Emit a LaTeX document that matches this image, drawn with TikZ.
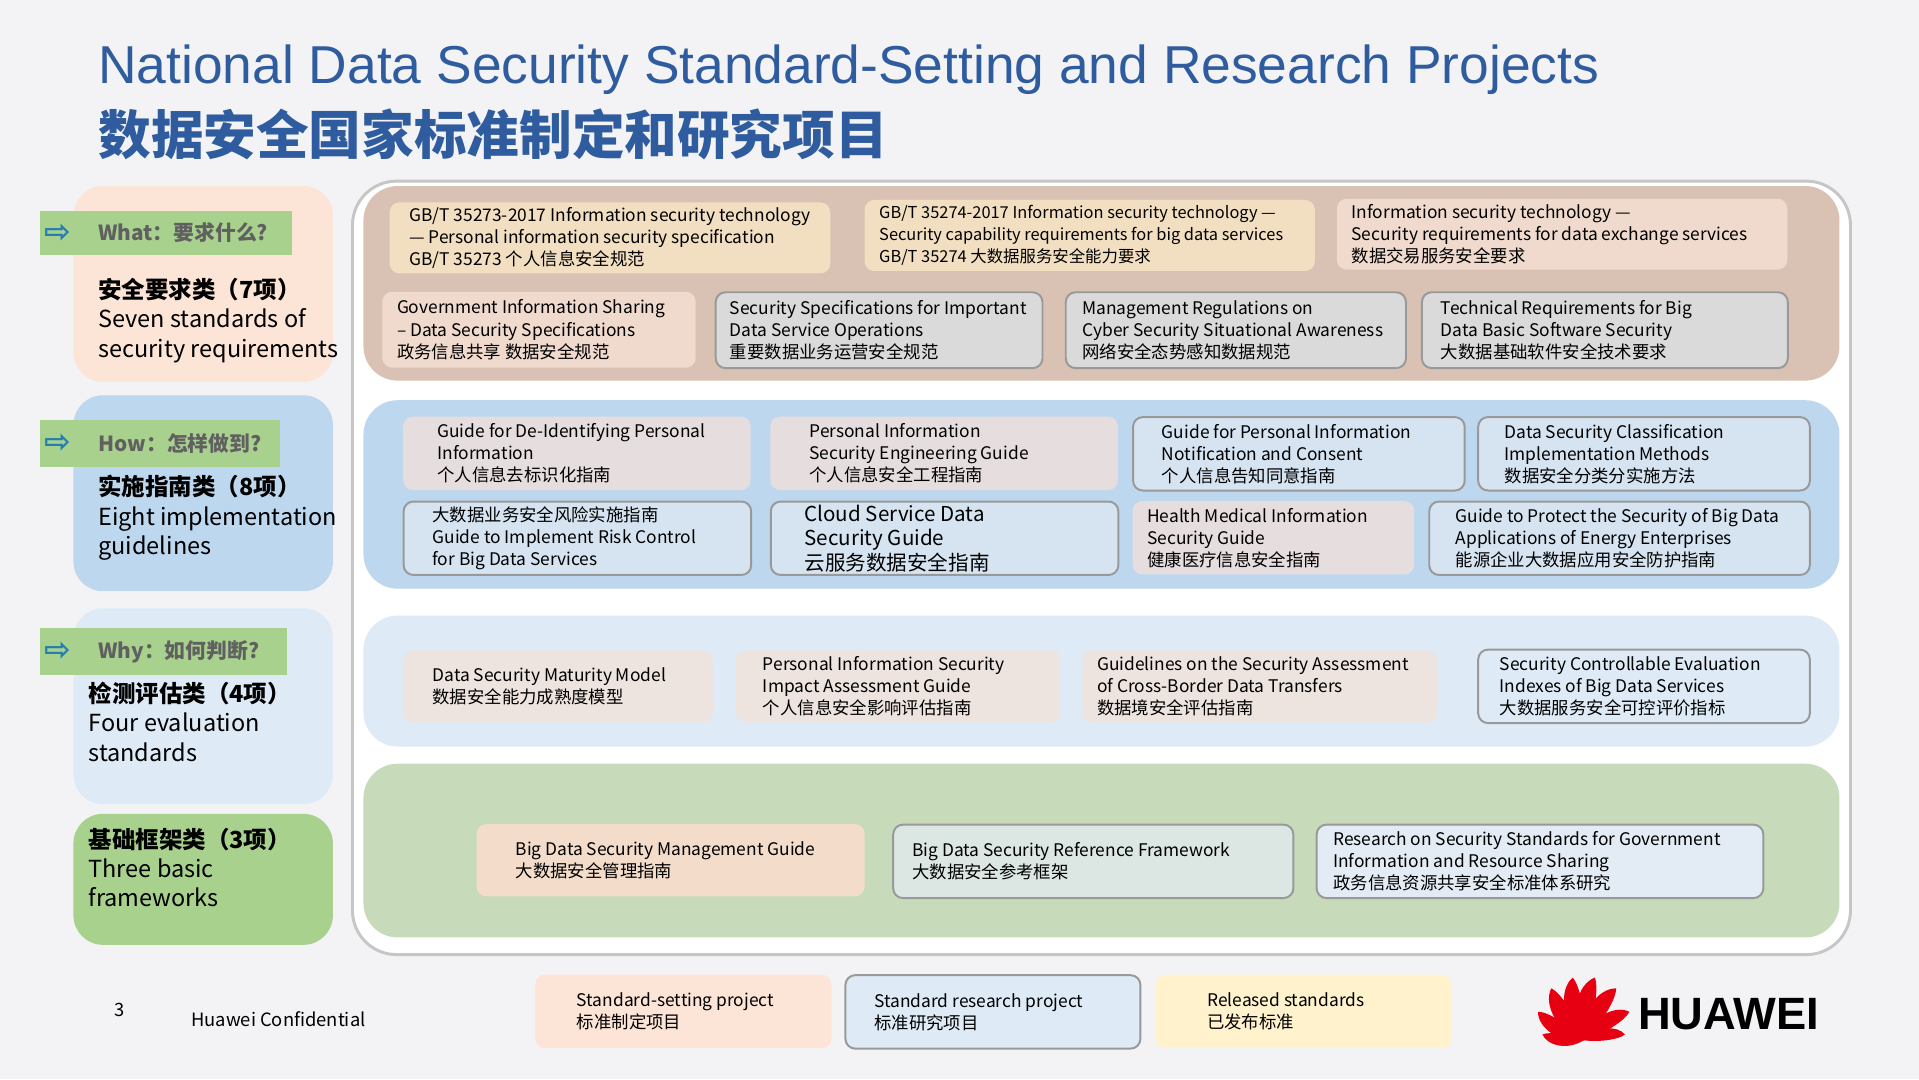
\documentclass[tikz,border=0pt]{standalone}
\usepackage{fontspec}
\setmainfont{Noto Sans CJK SC}
\newfontfamily\lib{Liberation Sans}
\newfontfamily\dv{DejaVu Sans}
\definecolor{ttl}{HTML}{2F5C9E}
\definecolor{bg}{HTML}{F3F3F5}
\definecolor{peachL}{HTML}{FCE4D6}
\definecolor{blueL}{HTML}{BDD7EE}
\definecolor{paleB}{HTML}{DEEBF7}
\definecolor{grn}{HTML}{A9D18E}
\definecolor{brownP}{HTML}{D9C2B3}
\definecolor{grnP}{HTML}{C7DBBB}
\definecolor{tan}{HTML}{F2DFC2}
\definecolor{peach}{HTML}{F0DACD}
\definecolor{gry}{HTML}{DADADA}
\definecolor{pinkg}{HTML}{E6DEDE}
\definecolor{lb}{HTML}{D6E4F2}
\definecolor{pk3}{HTML}{EDE3DF}
\definecolor{pc4}{HTML}{F3DDCA}
\definecolor{gb4}{HTML}{DCE7E3}
\definecolor{wb4}{HTML}{E3ECF4}
\definecolor{yel}{HTML}{FFF2CC}
\definecolor{hred}{HTML}{E60012}
\tikzset{
 bb/.style={rounded corners=4pt,inner xsep=0pt,inner ysep=0pt},
 nb/.style={bb,fill=#1},
 gb/.style={bb,fill=#1,draw=gray!80,line width=0.8pt},
 lefttxt/.style={anchor=north west,align=left,font=\fontsize{9.6}{12}\selectfont,inner sep=0pt},
 lab/.style={fill=grn,anchor=north west,inner sep=0pt},
 labt/.style={anchor=west,text=gray!75!black,font=\fontsize{8.5}{10}\selectfont\bfseries,inner sep=0pt},
}
\newcommand\bfs{\fontsize{7.1}{9}\selectfont}
\newcommand\bx[8]{%
 \pgfmathsetmacro\bw{(#4-#2)*0.5}\pgfmathsetmacro\bh{(#5-#3)*0.5}%
 \node[#6,anchor=north west,minimum width=\bw pt,minimum height=\bh pt] (#1) at (#2,#3) {};
 \node[anchor=west,align=left,inner sep=0pt,font=\bfs] (#1t) at ([xshift=#7 pt]#1.west) {#8};}
\begin{document}
\begin{tikzpicture}[x=0.5pt,y=-0.5pt]
\useasboundingbox (0,0) rectangle (1568,882);
\fill[bg] (0,0) rectangle (1568,882);
\node[anchor=west,text=ttl,font=\lib\fontsize{21.8}{24}\selectfont,inner sep=0pt] (t1) at (80,57) {National Data Security Standard-Setting and Research Projects};
\node[anchor=west,text=ttl,font=\fontsize{21.5}{24}\selectfont\bfseries,inner sep=0pt] (t2) at (80,110) {数据安全国家标准制定和研究项目};
% left column
\fill[peachL,rounded corners=12pt] (60,152) rectangle (272,312);
\fill[blueL,rounded corners=12pt] (60,323) rectangle (272,483);
\fill[paleB,rounded corners=12pt] (60,497) rectangle (272,657);
\fill[grn,rounded corners=12pt] (60,665) rectangle (272,772);
\node[lab,minimum width=103pt,minimum height=18pt] (l1) at (32,172) {};
\node[lab,minimum width=98pt,minimum height=19pt] (l2) at (32,343) {};
\node[lab,minimum width=101pt,minimum height=19pt] (l3) at (32,513) {};
\foreach \n/\t in {l1/What：要求什么?,l2/How：怎样做到?,l3/Why：如何判断?}{
 \node[anchor=west,text=ttl!80!cyan,font=\dv\fontsize{13}{13}\selectfont\bfseries,inner sep=0pt] (\n a) at ([xshift=2pt]\n.west) {⇨};
 \node[labt] (\n b) at ([xshift=24pt]\n.west) {\t};}
\node[lefttxt] (c1) at (80,227) {\textbf{安全要求类（7项）}\\Seven standards of\\security requirements};
\node[lefttxt] (c2) at (80,388) {\textbf{实施指南类（8项）}\\Eight implementation\\guidelines};
\node[lefttxt] (c3) at (72,557) {\textbf{检测评估类（4项）}\\Four evaluation\\standards};
\node[lefttxt] (c4) at (72,676) {\textbf{基础框架类（3项）}\\Three basic\\frameworks};
% outer
\draw[fill=white,draw=gray!45,line width=1.2pt,rounded corners=18pt] (288,148) rectangle (1512,780);
\fill[brownP,rounded corners=14pt] (297,152) rectangle (1503,311);
\fill[blueL,rounded corners=14pt] (297,327) rectangle (1503,481);
\fill[paleB,rounded corners=14pt] (297,503) rectangle (1503,610);
\fill[grnP,rounded corners=14pt] (297,624) rectangle (1503,766);
% row 1
\bx{a1}{318}{165}{678}{223}{nb=tan}{8}{GB/T 35273-2017 Information security technology\\— Personal information security specification\\GB/T 35273 个人信息安全规范}
\node[nb=tan,anchor=north west,minimum width=184pt,minimum height=29pt] (a2) at (706,163) {};
\node[anchor=west,align=left,inner sep=0pt,font=\fontsize{6.7}{9}\selectfont] (a2t) at ([xshift=6pt]a2.west) {GB/T 35274-2017 Information security technology —\\Security capability requirements for big data services\\GB/T 35274 大数据服务安全能力要求};
\bx{a3}{1092}{162}{1460}{220}{nb=peach}{6}{Information security technology —\\Security requirements for data exchange services\\数据交易服务安全要求}
\bx{a4}{312}{238}{568}{300}{nb=peach}{6}{Government Information Sharing\\– Data Security Specifications\\政务信息共享 数据安全规范}
\bx{a5}{584}{238}{851}{300}{gb=gry}{6}{Security Specifications for Important\\Data Service Operations\\重要数据业务运营安全规范}
\bx{a6}{870}{238}{1148}{300}{gb=gry}{7}{Management Regulations on\\Cyber Security Situational Awareness\\网络安全态势感知数据规范}
\bx{a7}{1161}{238}{1460}{300}{gb=gry}{8}{Technical Requirements for Big\\Data Basic Software Security\\大数据基础软件安全技术要求}
% row 2
\bx{b1}{329}{340}{613}{400}{nb=pinkg}{14}{Guide for De-Identifying Personal\\Information\\个人信息去标识化指南}
\bx{b2}{629}{340}{913}{400}{nb=pinkg}{16}{Personal Information\\Security Engineering Guide\\个人信息安全工程指南}
\bx{b3}{925}{340}{1196}{400}{gb=lb}{12}{Guide for Personal Information\\Notification and Consent\\个人信息告知同意指南}
\bx{b4}{1207}{340}{1478}{400}{gb=lb}{11}{Data Security Classification\\Implementation Methods\\数据安全分类分实施方法}
\bx{b5}{329}{409}{613}{469}{gb=lb}{12}{大数据业务安全风险实施指南\\Guide to Implement Risk Control\\for Big Data Services}
\node[gb=lb,anchor=north west,minimum width=142pt,minimum height=30pt] (b6) at (629,409) {};
\node[anchor=west,align=left,inner sep=0pt,font=\fontsize{8.4}{10}\selectfont] (b6t) at ([xshift=14pt]b6.west) {Cloud Service Data\\Security Guide\\云服务数据安全指南};
\bx{b7}{925}{409}{1155}{469}{nb=pinkg}{6}{Health Medical Information\\Security Guide\\健康医疗信息安全指南}
\bx{b8}{1167}{409}{1478}{469}{gb=lb}{11}{Guide to Protect the Security of Big Data\\Applications of Energy Enterprises\\能源企业大数据应用安全防护指南}
% row 3
\bx{d1}{329}{531}{582}{590}{nb=pk3}{12}{Data Security Maturity Model\\数据安全能力成熟度模型}
\bx{d2}{601}{531}{866}{590}{nb=pk3}{11}{Personal Information Security\\Impact Assessment Guide\\个人信息安全影响评估指南}
\bx{d3}{884}{531}{1174}{590}{nb=pk3}{6}{Guidelines on the Security Assessment\\of Cross-Border Data Transfers\\数据境安全评估指南}
\bx{d4}{1207}{530}{1478}{590}{gb=paleB}{9}{Security Controllable Evaluation\\Indexes of Big Data Services\\大数据服务安全可控评价指标}
% row 4
\bx{e1}{389}{673}{706}{732}{nb=pc4}{16}{Big Data Security Management Guide\\大数据安全管理指南}
\bx{e2}{729}{673}{1056}{733}{gb=gb4}{8}{Big Data Security Reference Framework\\大数据安全参考框架}
\bx{e3}{1075}{673}{1440}{733}{gb=wb4}{7}{Research on Security Standards for Government\\Information and Resource Sharing\\政务信息资源共享安全标准体系研究}
% legend
\bx{g1}{437}{796}{679}{856}{nb=peachL}{17}{Standard-setting project\\标准制定项目}
\bx{g2}{690}{796}{931}{856}{gb=paleB}{12}{Standard research project\\标准研究项目}
\bx{g3}{944}{796}{1186}{856}{nb=yel}{21}{Released standards\\已发布标准}
\node[font=\fontsize{7.5}{9}\selectfont,inner sep=0pt] (pg) at (98,825) {3};
\node[anchor=west,font=\fontsize{7.5}{9}\selectfont,inner sep=0pt] (hc) at (156,833) {Huawei Confidential};
% logo
\foreach \a/\l in {8/34,32/44,58/50,80/52,100/52,122/50,148/44,172/34}{
 \fill[hred,rotate around={\a:(1294,850)}] (1294,850) .. controls (1294+\l*0.35,850-\l*0.3) and (1294+\l*0.85,850-\l*0.25) .. (1294+\l,850) .. controls (1294+\l*0.85,850+\l*0.1) and (1294+\l*0.35,850+\l*0.1) .. (1294,850);}
\node[anchor=west,font=\lib\fontsize{18.5}{18}\selectfont\bfseries,inner sep=0pt] (hw) at (1338,829) {HUAWEI};
\end{tikzpicture}
\end{document}
